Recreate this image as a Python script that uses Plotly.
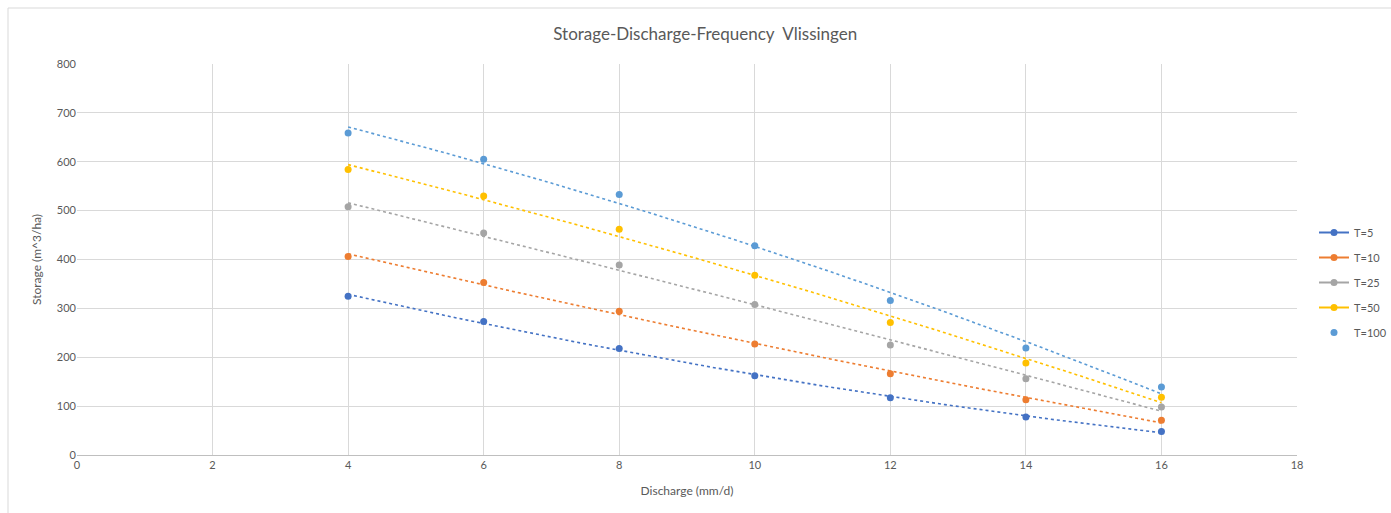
import numpy as np
import plotly.graph_objects as go

discharge = [4, 6, 8, 10, 12, 14, 16]
series_names = ["T=5", "T=10", "T=25", "T=50", "T=100"]
t5 = [325, 273, 218, 162, 117, 78, 48]
t10 = [406, 353, 294, 227, 166, 113, 71]
t25 = [508, 454, 389, 308, 225, 156, 98]
t50 = [584, 530, 462, 368, 271, 188, 118]
t100 = [659, 605, 533, 428, 316, 219, 139]
x_ticks = [0, 2, 4, 6, 8, 10, 12, 14, 16, 18]
y_ticks = [0, 100, 200, 300, 400, 500, 600, 700, 800]

colors = ["#4472C4", "#ED7D31", "#A5A5A5", "#FFC000", "#5B9BD5"]
all_series = [t5, t10, t25, t50, t100]

FONT = "Lato"
TXT = "#595959"

fig = go.Figure()

# trendlines (2nd order polynomial fits of each series)
xs = np.linspace(min(discharge), max(discharge), 200)
for name, vals, col in zip(series_names, all_series, colors):
    coef = np.polyfit(discharge, vals, 2)
    fig.add_trace(go.Scatter(x=xs, y=np.polyval(coef, xs), mode="lines",
                             line=dict(color=col, width=1.6, dash="dot"),
                             showlegend=False, hoverinfo="skip"))

# data markers
for i, (name, vals, col) in enumerate(zip(series_names, all_series, colors)):
    is_last = (i == len(series_names) - 1)
    fig.add_trace(go.Scatter(x=discharge, y=vals, mode="markers", name=name,
                             marker=dict(color=col, size=7), legendgroup=name,
                             showlegend=is_last, legendrank=i + 1))

# legend entries with line + marker for first four series
for i, (name, col) in enumerate(zip(series_names[:4], colors[:4])):
    fig.add_trace(go.Scatter(x=[None], y=[None], mode="lines+markers", name=name,
                             line=dict(color=col, width=2), legendgroup=name,
                             marker=dict(color=col, size=7),
                             showlegend=True, legendrank=i + 1))

fig.update_layout(
    width=1391, height=513,
    margin=dict(l=77, r=94, t=64, b=58, autoexpand=False),
    paper_bgcolor="white", plot_bgcolor="white",
    font=dict(family=FONT, size=11, color=TXT),
    title=dict(text="Storage-Discharge-Frequency  Vlissingen",
               x=0.507, xref="container", xanchor="center",
               y=1 - 34 / 513, yref="container", yanchor="middle",
               font=dict(family=FONT, size=17, color=TXT)),
    xaxis=dict(range=[0, 18], tickvals=x_ticks, showgrid=True, gridcolor="#D9D9D9",
               gridwidth=1, zeroline=False, showline=True, linecolor="#BFBFBF",
               ticks="", tickfont=dict(size=11, color=TXT),
               title=dict(text="Discharge (mm/d)", font=dict(size=12, color=TXT), standoff=16)),
    yaxis=dict(range=[0, 800], tickvals=y_ticks, showgrid=True, gridcolor="#D9D9D9",
               gridwidth=1, zeroline=False, showline=False,
               ticks="", tickfont=dict(size=11, color=TXT),
               title=dict(text="Storage (m^3/ha)", font=dict(size=12, color=TXT), standoff=12)),
    legend=dict(x=1314 / 1391, xref="container", y=1 - 218 / 513, yref="container",
                xanchor="left", yanchor="top", bgcolor="rgba(0,0,0,0)",
                traceorder="grouped", tracegroupgap=6,
                font=dict(size=11, color=TXT), itemwidth=30),
    shapes=[dict(type="rect", xref="paper", yref="paper",
                 x0=(8 - 77) / 1220, x1=1.2, y0=-0.3, y1=(455 - 8) / 391,
                 line=dict(color="#D9D9D9", width=1), layer="below")],
)

fig.write_html("out.html", config={"displayModeBar": False},
               post_script="document.body.style.margin='0px';")
